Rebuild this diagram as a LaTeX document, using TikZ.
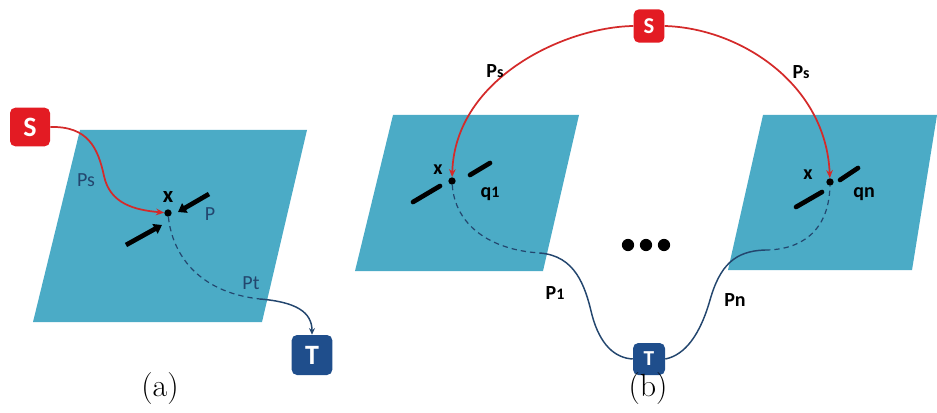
\documentclass[tikz,border=0pt]{standalone}
\usepackage{fontspec}
\newfontfamily\lblfont{Carlito}
\usetikzlibrary{arrows.meta}
\definecolor{plane}{HTML}{4BABC6}
\definecolor{sred}{HTML}{E31B23}
\definecolor{pred}{HTML}{D42A2A}
\definecolor{tnavy}{HTML}{1F4E8C}
\definecolor{lnavy}{HTML}{23466E}
\tikzset{
  planeshape/.style={fill=plane, draw=none},
  srcbox/.style={fill=sred, rounded corners=4pt, inner sep=0pt, text=white, font=\lblfont\bfseries},
  tgtbox/.style={fill=tnavy, rounded corners=4pt, inner sep=0pt, text=white, font=\lblfont\bfseries},
  dotnode/.style={circle, fill=black, inner sep=0pt, minimum size=5.5pt},
  redpath/.style={draw=pred, line width=1.3pt, -{Stealth[length=6pt,width=5pt]}},
  dashpath/.style={draw=lnavy, line width=0.9pt, dash pattern=on 4pt off 3pt},
  solpath/.style={draw=lnavy, line width=1.1pt},
  bar/.style={line width=3.5pt, line cap=round},
  bararrow/.style={line width=3.5pt, -{Triangle[length=6pt,width=8pt]}},
  lbla/.style={font=\lblfont\fontsize{15}{17}\selectfont, text=lnavy, inner sep=0pt},
  lblb/.style={font=\lblfont\bfseries\fontsize{15}{17}\selectfont, text=black, inner sep=0pt},
  caption/.style={font=\fontsize{24}{28}\selectfont, inner sep=0pt}
}
\newcommand{\smallsub}[1]{{\fontsize{12}{14}\selectfont #1}}
\begin{document}
\begin{tikzpicture}[x=0.75pt,y=-0.75pt]
\useasboundingbox (0,0) rectangle (937,413);
% planes
\path[planeshape] (80,130) -- (307,130) -- (262,322) -- (33,322) -- cycle;
\path[planeshape] (393,115) -- (579,115) -- (543,271) -- (355,271) -- cycle;
\path[planeshape] (763,115) -- (937,115) -- (912,270) -- (728,270) -- cycle;

% ---------- panel (a)
\node[srcbox, minimum width=30pt, minimum height=29pt, font=\lblfont\bfseries\fontsize{21}{24}\selectfont] (Sa) at (30,127) {S};
\node[tgtbox, minimum width=30.5pt, minimum height=30pt, font=\lblfont\bfseries\fontsize{21}{24}\selectfont] (Ta) at (312,355) {T};
\node[dotnode] (xa) at (168,213) {};
\node[font=\lblfont\bfseries\fontsize{17}{19}\selectfont, inner sep=0pt] (xla) at (168,197) {x};
\draw[redpath] (Sa.east) .. controls (88,126) and (98,148) .. (104,176) .. controls (110,204) and (135,210) .. (xa);
\draw[dashpath] (xa) .. controls (172,252) and (196,292) .. (260,299) coordinate (ma);
\draw[solpath, -{Stealth[length=5pt,width=4.5pt]}] (ma) .. controls (296,302) and (312,312) .. (Ta.north);
\coordinate (ba1s) at (126,245); \coordinate (ba1e) at (162,225);
\coordinate (ba2s) at (209,194); \coordinate (ba2e) at (178,212);
\draw[bararrow] (ba1s) -- (ba1e);
\draw[bararrow] (ba2s) -- (ba2e);
\node[lbla] (lPs) at (86,180) {Ps};
\node[lbla] (lP) at (210,214) {P};
\node[lbla] (lPt) at (251,283) {Pt};
\node[caption] (capa) at (160,389) {(a)};

% ---------- panel (b)
\node[srcbox, minimum width=23pt, minimum height=25pt, font=\lblfont\bfseries\fontsize{17}{20}\selectfont] (Sb) at (649,26) {S};
\node[tgtbox, minimum width=24pt, minimum height=24pt, font=\lblfont\bfseries\fontsize{16}{19}\selectfont] (Tb) at (649,359) {T};
\node[dotnode] (xb1) at (452,181) {};
\node[dotnode] (xbn) at (830,182) {};
\draw[redpath] (Sb.west) .. controls (565,27) and (455,78) .. (xb1);
\draw[redpath] (Sb.east) .. controls (740,28) and (826,84) .. (xbn);
\draw[dashpath] (xb1) .. controls (455,225) and (490,250) .. (540,253) coordinate (m1);
\draw[solpath] (m1) .. controls (575,256) and (585,285) .. (592,315) .. controls (600,345) and (615,358) .. (Tb.west);
\draw[solpath] (Tb.east) .. controls (685,355) and (700,335) .. (710,300) .. controls (720,265) and (735,251) .. (765,250) coordinate (mn);
\draw[dashpath] (mn) .. controls (800,250) and (829,232) .. (xbn);
\coordinate (bb1s) at (413,202); \coordinate (bb1e) at (440,186);
\coordinate (bb2s) at (470,175); \coordinate (bb2e) at (490,163);
\coordinate (bn1s) at (796,207); \coordinate (bn1e) at (822,192);
\coordinate (bn2s) at (840,180); \coordinate (bn2e) at (858,168);
\draw[bar] (bb1s) -- (bb1e);
\draw[bar] (bb2s) -- (bb2e);
\draw[bar] (bn1s) -- (bn1e);
\draw[bar] (bn2s) -- (bn2e);
\node[lblb] (xl1) at (438,170) {x};
\node[lblb] (xln) at (808,175) {x};
\node[lblb] (lq1) at (490,194) {q\smallsub{1}};
\node[lblb] (lqn) at (864,194) {qn};
\node[lblb] (lPs1) at (495,71) {P\smallsub{s}};
\node[lblb] (lPs2) at (801,72) {P\smallsub{s}};
\node[lblb] (lP1) at (555,293) {P\smallsub{1}};
\node[lblb] (lPn) at (735,300) {Pn};
\fill (628,245) circle (4.6pt) (646,245) circle (4.6pt) (664,245) circle (4.6pt);
\node[caption] (capb) at (648,389) {(b)};
\end{tikzpicture}
\end{document}
